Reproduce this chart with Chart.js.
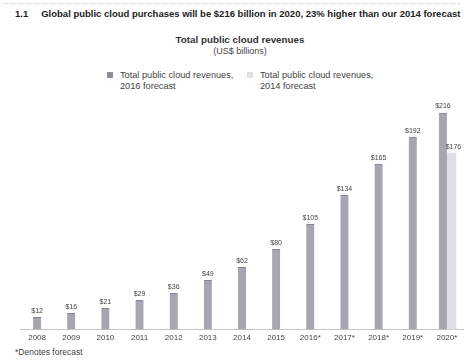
<!DOCTYPE html>
<html>
<head>
    <meta charset="utf-8">
    <script src="https://cdn.jsdelivr.net/npm/chart.js@4"></script>
    <style>
        body { margin: 0; width: 464px; height: 363px; background: #fff; position: relative; overflow: hidden;
               font-family: "Liberation Sans", Arial, sans-serif; color: #333; }
        .topline { position: absolute; left: 4px; right: 4px; top: 3px; border-top: 1px dotted #ccc; }
        .headline { position: absolute; left: 15px; top: 8px; font-size: 9.5px; font-weight: bold; color: #222; white-space: nowrap; }
        .headline span { margin-right: 13px; }
        .ctitle { position: absolute; left: 0; width: 480px; top: 34px; text-align: center; font-size: 9.8px; font-weight: bold; color: #333; }
        .csub { position: absolute; left: 0; width: 480px; top: 46px; text-align: center; font-size: 9px; color: #444; }
        .leg { position: absolute; top: 70px; font-size: 9.2px; line-height: 11px; color: #444; }
        .leg i { position: absolute; left: -13px; top: 2px; width: 6px; height: 6px; }
        .foot { position: absolute; left: 15px; top: 347px; font-size: 8.5px; color: #444; }
        #wrap { position: absolute; left: 0; top: 92px; width: 464px; height: 255px; }
    </style>
</head>
<body>
    <div class="topline"></div>
    <div class="headline"><span>1.1</span>Global public cloud purchases will be $216 billion in 2020, 23% higher than our 2014 forecast</div>
    <div class="ctitle">Total public cloud revenues</div>
    <div class="csub">(US$ billions)</div>
    <div class="leg" style="left:120px"><i style="background:#8f8f99"></i>Total public cloud revenues,<br>2016 forecast</div>
    <div class="leg" style="left:260px"><i style="background:#e2e2e6"></i>Total public cloud revenues,<br>2014 forecast</div>
    <div class="foot">*Denotes forecast</div>
    <div id="wrap"><canvas id="myChart"></canvas></div>
    <script>
        // values (US$ billions)
        const years = ['2008', '2009', '2010', '2011', '2012', '2013', '2014', '2015', '2016*', '2017*', '2018*', '2019*', '2020*'];
        const revenues2016 = [12, 16, 21, 29, 36, 49, 62, 80, 105, 134, 165, 192, 216];
        const forecast2014 = [null, null, null, null, null, null, null, null, null, null, null, null, 176];

        // draws "$xx" above every bar
        const valueLabels = {
            id: 'valueLabels',
            afterDatasetsDraw(chart) {
                const ctx = chart.ctx;
                ctx.save();
                ctx.font = '7px "Liberation Sans", Arial, sans-serif';
                ctx.fillStyle = '#444';
                ctx.textAlign = 'center';
                ctx.textBaseline = 'bottom';
                chart.data.datasets.forEach((ds, di) => {
                    chart.getDatasetMeta(di).data.forEach((bar, i) => {
                        if (ds.data[i] == null) return;
                        ctx.fillText('$' + ds.data[i], bar.x + (di === 1 ? 2 : 0), bar.y - 3);
                    });
                });
                ctx.restore();
            }
        };

        const data = {
            labels: years,
            datasets: [{
                label: 'Total public cloud revenues, 2016 forecast',
                data: revenues2016,
                backgroundColor: '#a6a6b0',
                borderColor: '#85858f',
                borderWidth: { top: 1 },
                barThickness: 8,
                skipNull: true
            }, {
                label: 'Total public cloud revenues, 2014 forecast',
                data: forecast2014,
                backgroundColor: '#e0e0e4',
                barThickness: 9,
                skipNull: true
            }]
        };

        const config = {
            type: 'bar',
            data: data,
            options: {
                responsive: true,
                maintainAspectRatio: false,
                animation: false,
                devicePixelRatio: 1,
                layout: { padding: { left: 20, right: 0, top: 8, bottom: 0 } },
                plugins: { legend: { display: false }, tooltip: { enabled: false } },
                scales: {
                    x: {
                        grid: { display: false, drawTicks: false },
                        border: { display: true, color: '#c4c4c4', width: 1 },
                        ticks: { color: '#444', padding: 4, maxRotation: 0, autoSkip: false,
                                 font: { size: 8, family: '"Liberation Sans", Arial, sans-serif' } }
                    },
                    y: { display: false, min: 0, max: 229 }
                }
            },
            plugins: [valueLabels]
        };

        const myChart = new Chart(document.getElementById('myChart'), config);
    </script>
</body>
</html>
